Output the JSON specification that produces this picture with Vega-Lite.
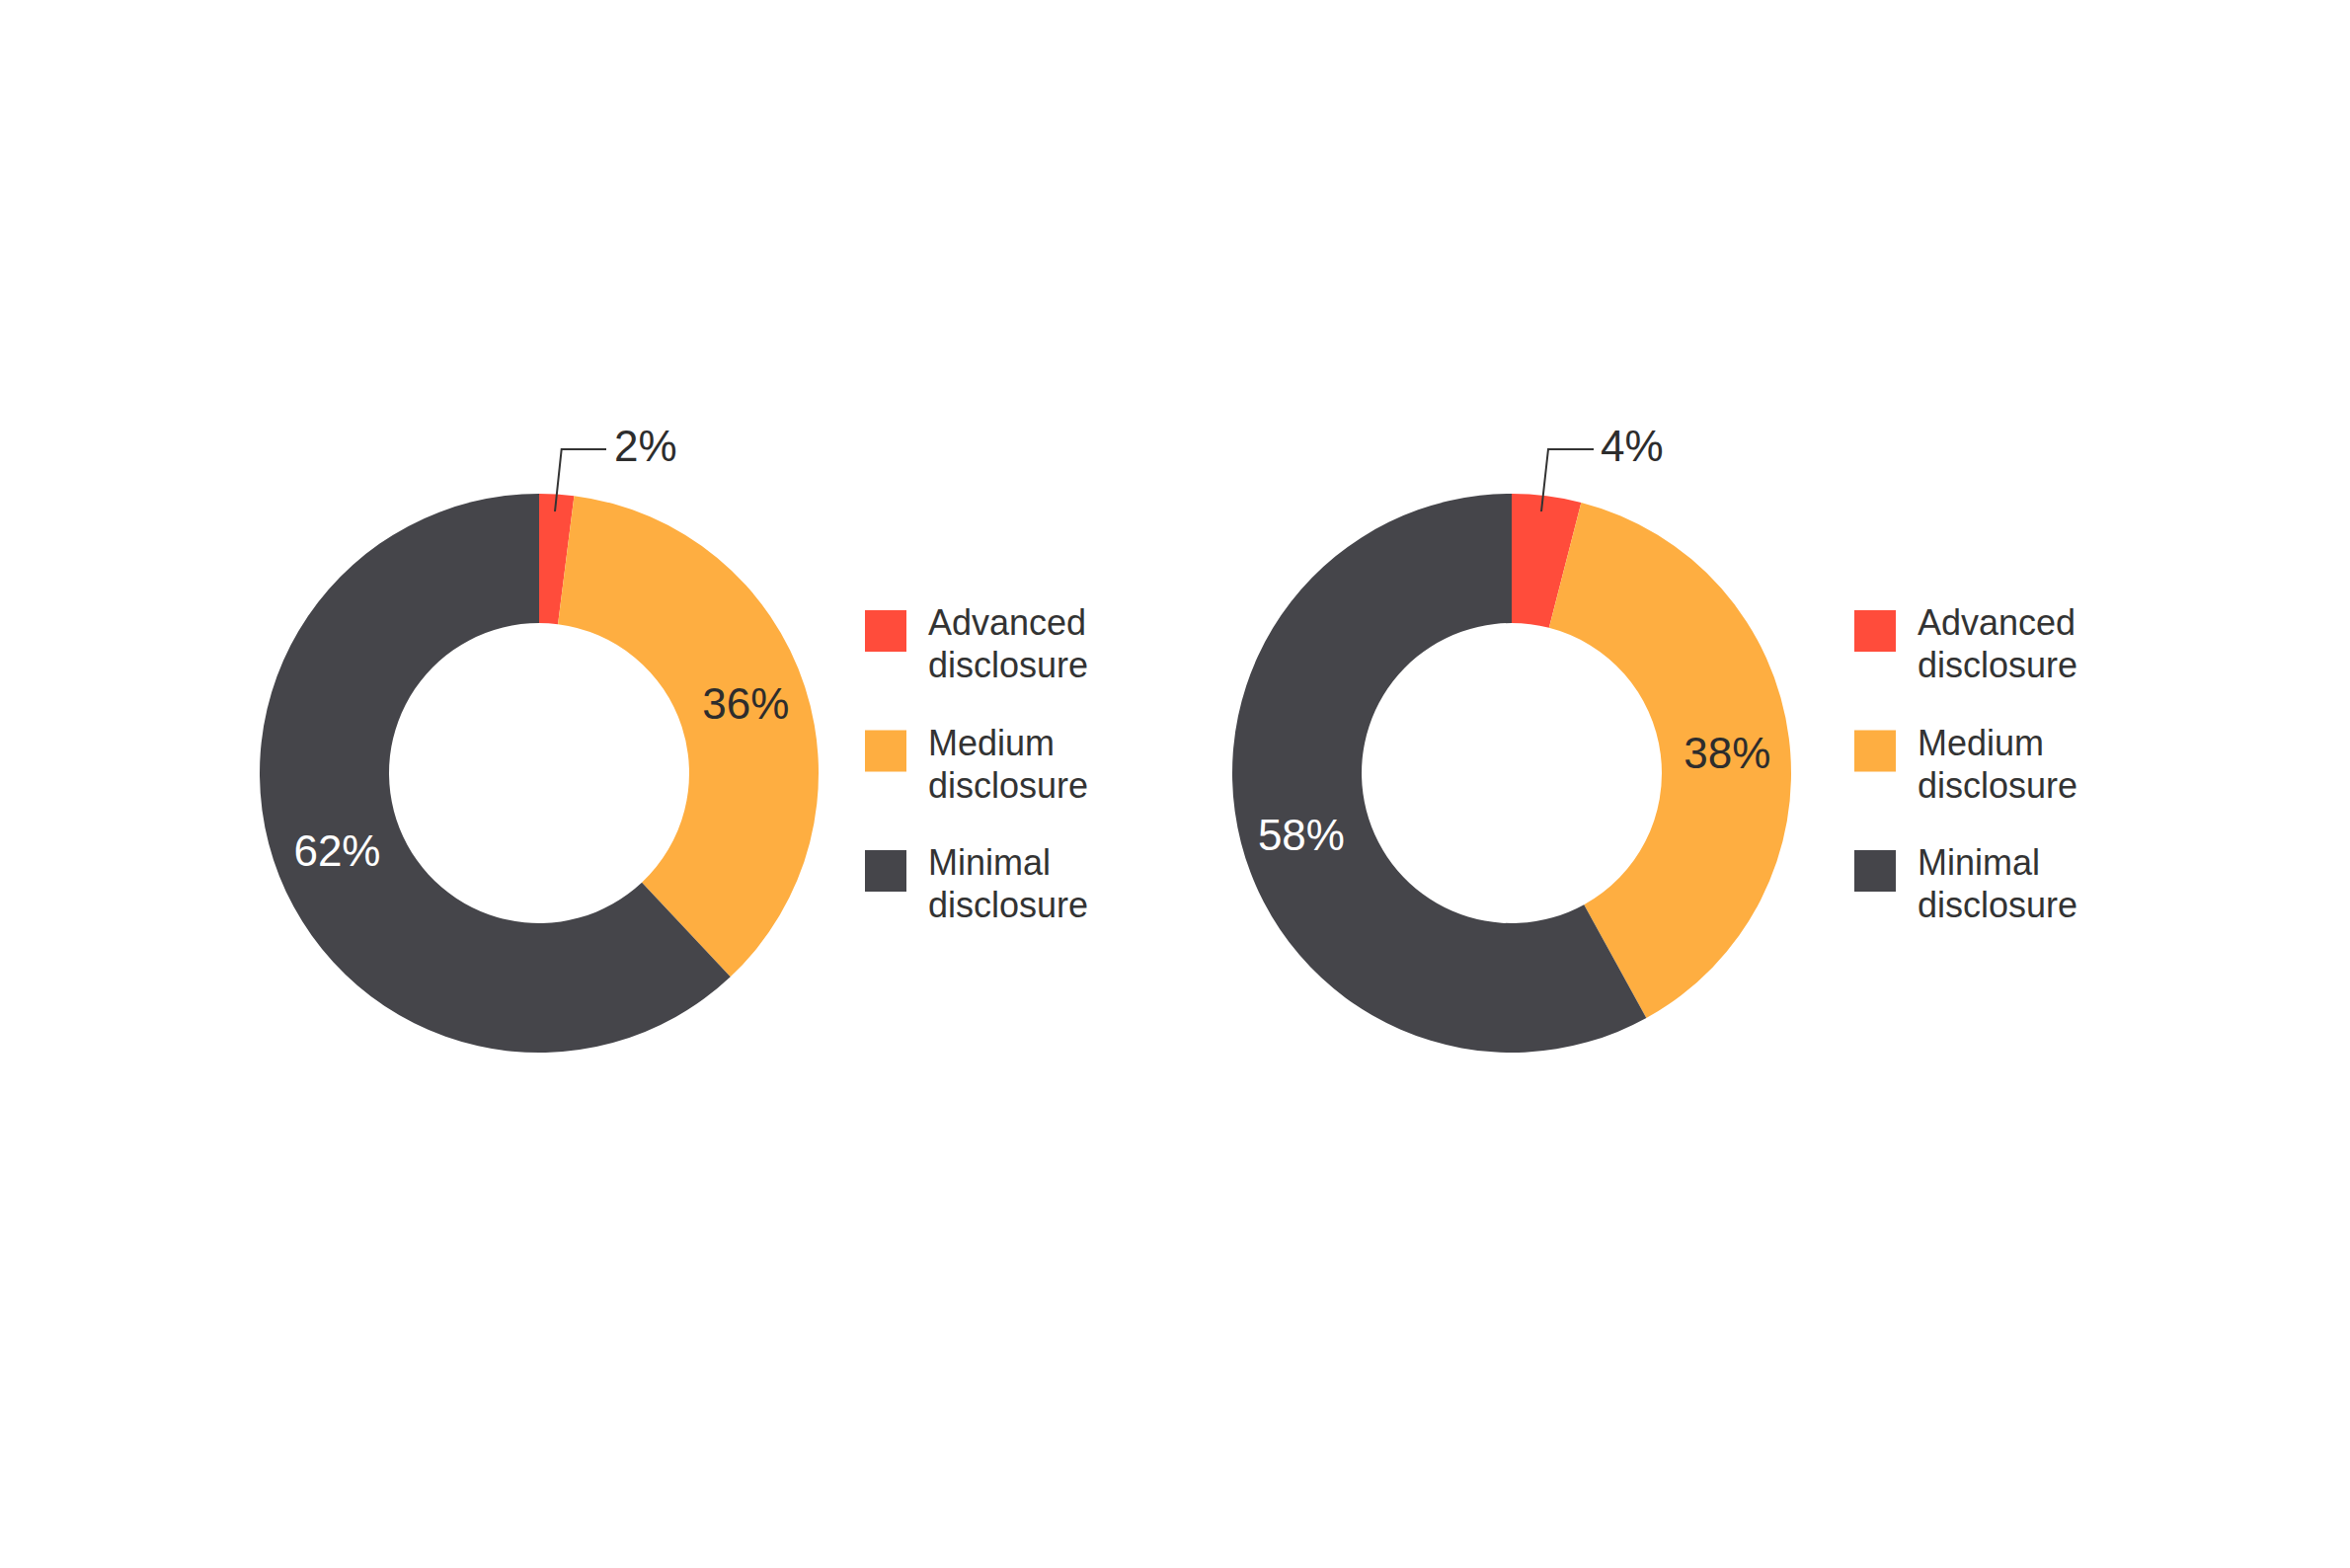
{
  "$schema": "https://vega.github.io/schema/vega-lite/v6.json",
  "background": "white",
  "padding": {"left": 146, "top": 383, "right": 0, "bottom": 0},
  "bounds": "flush",
  "spacing": 185,
  "config": {
    "view": {"stroke": null},
    "font": "Liberation Sans",
    "legend": {
      "padding": 0,
      "symbolType": "square",
      "symbolSize": 1764,
      "symbolStrokeWidth": 0,
      "symbolOpacity": 1,
      "labelFont": "Liberation Sans",
      "labelFontSize": 36,
      "labelColor": "#333333",
      "labelOffset": 22,
      "labelLimit": 0,
      "labelBaseline": "alphabetic",
      "rowPadding": 42.5
    }
  },
  "datasets": {
    "left": [
      {"category": "Advanced disclosure", "share": 0.02},
      {"category": "Medium disclosure", "share": 0.36},
      {"category": "Minimal disclosure", "share": 0.62}
    ],
    "right": [
      {"category": "Advanced disclosure", "share": 0.04},
      {"category": "Medium disclosure", "share": 0.38},
      {"category": "Minimal disclosure", "share": 0.58}
    ],
    "leaderLeft": [
      {"step": 0, "x": 16, "y": 265},
      {"step": 1, "x": 22.7, "y": 328},
      {"step": 2, "x": 68, "y": 328}
    ],
    "leaderRight": [
      {"step": 0, "x": 30, "y": 265},
      {"step": 1, "x": 37, "y": 328},
      {"step": 2, "x": 83, "y": 328}
    ]
  },
  "resolve": {"legend": {"color": "independent"}},
  "hconcat": [
    {
      "width": 800,
      "height": 800,
      "data": {"name": "left"},
      "layer": [
        {
          "mark": {"type": "arc", "innerRadius": 152, "outerRadius": 283},
          "encoding": {
            "theta": {"field": "share", "type": "quantitative", "stack": true},
            "color": {
              "field": "category",
              "type": "nominal",
              "scale": {
                "domain": ["Advanced disclosure", "Medium disclosure", "Minimal disclosure"],
                "range": ["#ff4c3b", "#feae41", "#45454a"]
              },
              "legend": {
                "title": null,
                "orient": "none",
                "legendX": 730,
                "legendY": 235,
                "labelExpr": "split(datum.label, ' ')",
                "encode": {"labels": {"update": {"lineHeight": {"value": 43}, "dy": {"value": 4}}}}
              }
            }
          }
        },
        {
          "mark": {"type": "text", "radius": 220, "fontSize": 44, "align": "center", "baseline": "middle"},
          "encoding": {
            "theta": {"field": "share", "type": "quantitative", "stack": true},
            "detail": {"field": "category"},
            "text": {
              "condition": {"test": "datum.category === 'Advanced disclosure'", "value": ""},
              "field": "share",
              "format": ".0%"
            },
            "color": {
              "condition": {"test": "datum.category === 'Minimal disclosure'", "value": "#ffffff"},
              "value": "#2d2d2d"
            }
          }
        },
        {
          "data": {"name": "leaderLeft"},
          "mark": {"type": "line", "stroke": "#333333", "strokeWidth": 2},
          "encoding": {
            "x": {"field": "x", "type": "quantitative", "scale": {"domain": [-400, 400], "nice": false, "zero": false}, "axis": null},
            "y": {"field": "y", "type": "quantitative", "scale": {"domain": [-400, 400], "nice": false, "zero": false}, "axis": null},
            "order": {"field": "step"}
          }
        },
        {
          "transform": [{"filter": "datum.category === 'Advanced disclosure'"}],
          "mark": {"type": "text", "align": "left", "baseline": "middle", "fontSize": 44, "color": "#2d2d2d"},
          "encoding": {
            "x": {"datum": 76, "type": "quantitative"},
            "y": {"datum": 329, "type": "quantitative"},
            "text": {"field": "share", "format": ".0%"}
          }
        }
      ]
    },
    {
      "width": 800,
      "height": 800,
      "data": {"name": "right"},
      "layer": [
        {
          "mark": {"type": "arc", "innerRadius": 152, "outerRadius": 283},
          "encoding": {
            "theta": {"field": "share", "type": "quantitative", "stack": true},
            "color": {
              "field": "category",
              "type": "nominal",
              "scale": {
                "domain": ["Advanced disclosure", "Medium disclosure", "Minimal disclosure"],
                "range": ["#ff4c3b", "#feae41", "#45454a"]
              },
              "legend": {
                "title": null,
                "orient": "none",
                "legendX": 747,
                "legendY": 235,
                "labelExpr": "split(datum.label, ' ')",
                "encode": {"labels": {"update": {"lineHeight": {"value": 43}, "dy": {"value": 4}}}}
              }
            }
          }
        },
        {
          "mark": {"type": "text", "radius": 220, "fontSize": 44, "align": "center", "baseline": "middle", "dy": 10},
          "encoding": {
            "theta": {"field": "share", "type": "quantitative", "stack": true},
            "detail": {"field": "category"},
            "text": {
              "condition": {"test": "datum.category === 'Advanced disclosure'", "value": ""},
              "field": "share",
              "format": ".0%"
            },
            "color": {
              "condition": {"test": "datum.category === 'Minimal disclosure'", "value": "#ffffff"},
              "value": "#2d2d2d"
            }
          }
        },
        {
          "data": {"name": "leaderRight"},
          "mark": {"type": "line", "stroke": "#333333", "strokeWidth": 2},
          "encoding": {
            "x": {"field": "x", "type": "quantitative", "scale": {"domain": [-400, 400], "nice": false, "zero": false}, "axis": null},
            "y": {"field": "y", "type": "quantitative", "scale": {"domain": [-400, 400], "nice": false, "zero": false}, "axis": null},
            "order": {"field": "step"}
          }
        },
        {
          "transform": [{"filter": "datum.category === 'Advanced disclosure'"}],
          "mark": {"type": "text", "align": "left", "baseline": "middle", "fontSize": 44, "color": "#2d2d2d"},
          "encoding": {
            "x": {"datum": 90, "type": "quantitative"},
            "y": {"datum": 329, "type": "quantitative"},
            "text": {"field": "share", "format": ".0%"}
          }
        }
      ]
    }
  ]
}
